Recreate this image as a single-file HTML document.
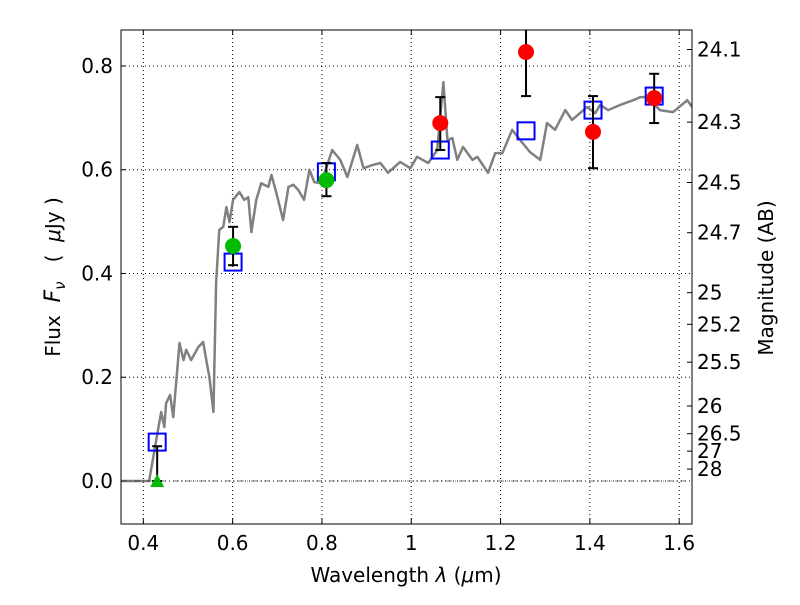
<!DOCTYPE html>
<html><head><meta charset="utf-8"><style>
body{margin:0;background:#fff;}
svg text{font-family:"DejaVu Sans","Liberation Sans",sans-serif;fill:#000;}
</style></head><body>
<svg id="chart" width="800" height="600"></svg>
<script>
const specWl=[0.351,0.413,0.434,0.440,0.447,0.451,0.460,0.467,0.481,0.490,0.496,0.507,0.523,0.534,0.541,0.548,0.557,0.563,0.570,0.579,0.586,0.593,0.601,0.615,0.626,0.635,0.642,0.653,0.664,0.680,0.687,0.698,0.713,0.725,0.736,0.747,0.760,0.772,0.783,0.798,0.823,0.841,0.857,0.879,0.893,0.913,0.931,0.948,0.975,0.998,1.013,1.038,1.058,1.072,1.081,1.092,1.103,1.116,1.137,1.148,1.172,1.188,1.204,1.226,1.244,1.266,1.289,1.304,1.322,1.345,1.360,1.394,1.412,1.423,1.441,1.468,1.497,1.513,1.528,1.557,1.586,1.618,1.629];
const specFlux=[0,0,0.104,0.133,0.104,0.150,0.166,0.123,0.266,0.233,0.253,0.233,0.258,0.268,0.233,0.200,0.133,0.382,0.484,0.490,0.528,0.499,0.542,0.557,0.542,0.547,0.480,0.542,0.574,0.567,0.590,0.555,0.503,0.567,0.571,0.561,0.542,0.600,0.576,0.574,0.638,0.619,0.586,0.648,0.603,0.609,0.613,0.594,0.615,0.603,0.625,0.613,0.638,0.769,0.657,0.661,0.619,0.644,0.619,0.625,0.594,0.632,0.632,0.677,0.657,0.634,0.619,0.690,0.677,0.715,0.696,0.721,0.709,0.725,0.715,0.725,0.734,0.740,0.740,0.715,0.711,0.734,0.721];
const modelWl=[0.431,0.601,0.810,1.065,1.257,1.407,1.544];
const modelFlux=[0.075,0.422,0.596,0.638,0.675,0.715,0.742];
const redWl=[1.065,1.257,1.407,1.544];
const redFlux=[0.690,0.827,0.673,0.738];
const redErrHi=[0.740,0.912,0.742,0.785];
const redErrLo=[0.638,0.742,0.603,0.690];
const greenWl=[0.601,0.810];
const greenFlux=[0.453,0.580];
const greenErrHi=[0.490,0.613];
const greenErrLo=[0.416,0.549];
const limWl=[0.431];
const limFlux=[0.0];
const limErrHi=[0.067];
const xTicks=[0.4,0.6,0.8,1.0,1.2,1.4,1.6];
const xTickLabels=["0.4","0.6","0.8","1","1.2","1.4","1.6"];
const yTicks=[0,0.2,0.4,0.6,0.8];
const yTickLabels=["0.0","0.2","0.4","0.6","0.8"];
const magTicks=[24.1,24.3,24.5,24.7,25,25.2,25.5,26,26.5,27,28];
const magLabels=["24.1","24.3","24.5","24.7","25","25.2","25.5","26","26.5","27","28"];

const L=121,R=692,T=30,B=524;
const X0=0.35,X1=1.6287,Y0=-0.0829,Y1=0.8694;
const sx=v=>L+(v-X0)/(X1-X0)*(R-L);
const sy=v=>B-(v-Y0)/(Y1-Y0)*(B-T);
const svg=document.getElementById('chart');
const NS='http://www.w3.org/2000/svg';
function mk(tag,attrs,parent){const e=document.createElementNS(NS,tag);for(const k in attrs)e.setAttribute(k,attrs[k]);(parent||svg).appendChild(e);return e;}

const clip=mk('clipPath',{id:'pc'});mk('rect',{x:L,y:T,width:R-L,height:B-T},clip);
xTicks.forEach((t,i)=>{
 const g=mk('line',{x1:sx(t),x2:sx(t),y1:T,y2:B,stroke:'#000','stroke-width':1,'stroke-dasharray':'1,3'});
 
 mk('line',{x1:sx(t),x2:sx(t),y1:B,y2:B-5,stroke:'#000'});
 mk('line',{x1:sx(t),x2:sx(t),y1:T,y2:T+5,stroke:'#000'});
 const tx=mk('text',{x:sx(t),y:B+26,'font-size':20,'text-anchor':'middle'});tx.textContent=xTickLabels[i];
 
});
yTicks.forEach((t,i)=>{
 const g=mk('line',{x1:L,x2:R,y1:sy(t),y2:sy(t),stroke:'#000','stroke-width':1,'stroke-dasharray':'1,3'});
 
 mk('line',{x1:L,x2:L+5,y1:sy(t),y2:sy(t),stroke:'#000'});
 const tx=mk('text',{x:L-8,y:sy(t)+7,'font-size':20,'text-anchor':'end'});tx.textContent=yTickLabels[i];
 
});
magTicks.forEach((m,i)=>{
 const f=Math.pow(10,(23.9-m)/2.5);const y=sy(f);
 mk('line',{x1:R,x2:R-5,y1:y,y2:y,stroke:'#000'});
 const tx=mk('text',{x:R+5,y:y+7,'font-size':20});tx.textContent=magLabels[i];
 
});
const g=mk('g',{'clip-path':'url(#pc)'});

const sp=mk('polyline',{points:specWl.map((w,i)=>sx(w)+','+sy(specFlux[i])).join(' '),fill:'none',stroke:'#808080','stroke-width':2.5,'stroke-linejoin':'round'},g);

function err(w,lo,hi){mk('line',{x1:sx(w),x2:sx(w),y1:sy(lo),y2:sy(hi),stroke:'#000','stroke-width':2},g);
 [lo,hi].forEach(v=>mk('line',{x1:sx(w)-5,x2:sx(w)+5,y1:sy(v),y2:sy(v),stroke:'#000','stroke-width':2},g));}
modelWl.forEach((w,i)=>{const r=mk('rect',{x:sx(w)-8.5,y:sy(modelFlux[i])-8.5,width:17,height:17,fill:'none',stroke:'#0000ff','stroke-width':2},g);
 });
redWl.forEach((w,i)=>{err(w,redErrLo[i],redErrHi[i]);const c=mk('circle',{cx:sx(w),cy:sy(redFlux[i]),r:8,fill:'#ff0000'},g);
 });
greenWl.forEach((w,i)=>{err(w,greenErrLo[i],greenErrHi[i]);const c=mk('circle',{cx:sx(w),cy:sy(greenFlux[i]),r:8,fill:'#00bb00'},g);
 });
limWl.forEach((w,i)=>{err(w,limFlux[i],limErrHi[i]);const x=sx(w),y=sy(limFlux[i]);
 const p=mk('polygon',{points:`${x},${y-7} ${x-7},${y+6} ${x+7},${y+6}`,fill:'#00bb00'},g);
 });
mk('line',{x1:L,x2:R,y1:sy(0),y2:sy(0),stroke:'#000','stroke-width':0.6,'stroke-dasharray':'6,3,1,3'},g);
const fr=mk('rect',{x:L,y:T,width:R-L,height:B-T,fill:'none',stroke:'#000','stroke-width':1});

</script>
<svg style="position:absolute;left:0;top:0" width="800" height="600">
<text x="406" y="582" font-size="20" text-anchor="middle">Wavelength  <tspan font-style="italic">λ</tspan> (<tspan font-style="italic">μ</tspan>m)</text>
<text transform="translate(60,277) rotate(-90)" font-size="20" text-anchor="middle" xml:space="preserve">Flux  <tspan font-style="italic" font-size="22">F</tspan><tspan font-style="italic" font-size="15" dy="5">ν</tspan><tspan dy="-5">   (  </tspan><tspan font-style="italic">μ</tspan>Jy )</text>
<text transform="translate(773,278) rotate(-90)" font-size="20" text-anchor="middle">Magnitude (AB)</text>
</svg>
</body></html>
